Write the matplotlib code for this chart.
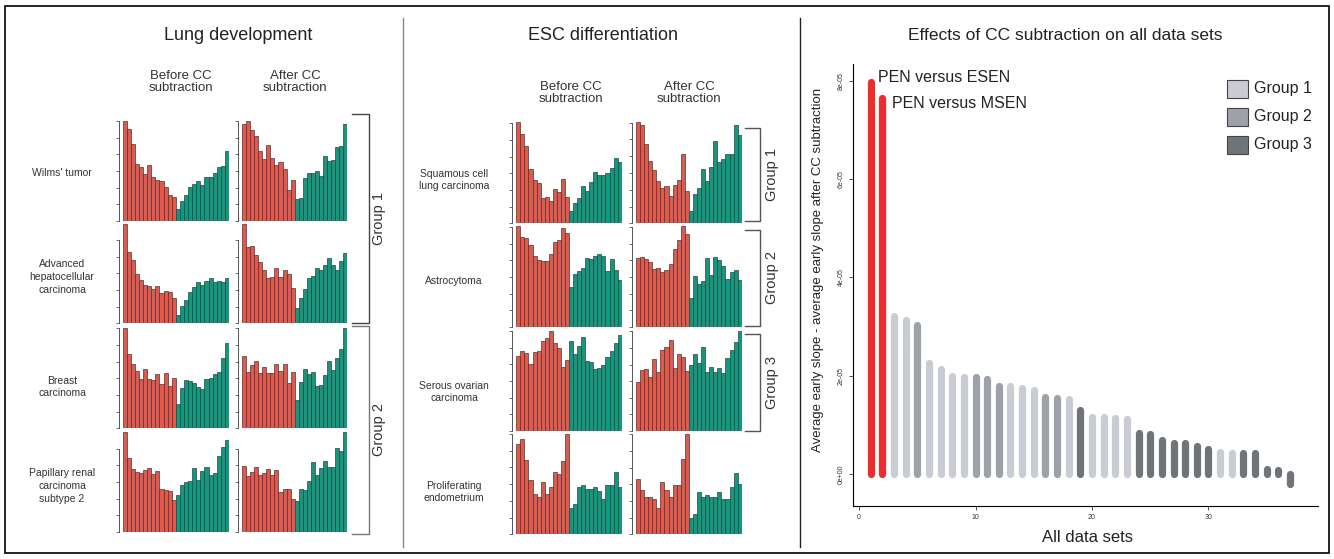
import numpy as np
import matplotlib
matplotlib.use('Agg')
import matplotlib.pyplot as plt
from matplotlib.lines import Line2D
from matplotlib.patches import Rectangle
from matplotlib.ticker import MaxNLocator

plt.rcParams['font.family'] = ['Liberation Sans', 'DejaVu Sans']

# ---- bar profiles (relative heights) ----
wilms_before = [301, 275, 230, 171, 162, 141, 167, 133, 122, 120, 102, 78, 72,
                37, 60, 77, 102, 111, 119, 108, 133, 133, 145, 161, 165, 209]
wilms_after = [291, 301, 272, 256, 211, 185, 227, 188, 167, 176, 157, 93, 123,
               66, 68, 129, 143, 143, 150, 135, 195, 180, 183, 222, 224, 290]
hepato_before = [297, 213, 189, 149, 129, 114, 111, 102, 111, 91, 98, 94, 75,
                 24, 51, 71, 93, 108, 125, 114, 127, 135, 123, 126, 123, 135]
hepato_after = [297, 228, 231, 205, 185, 159, 137, 139, 165, 139, 159, 147, 105,
                46, 75, 103, 135, 142, 166, 159, 174, 195, 176, 159, 186, 210]
breast_before = [300, 222, 192, 173, 149, 179, 149, 145, 164, 133, 165, 128, 150,
                 74, 121, 145, 141, 137, 125, 117, 147, 152, 162, 169, 210, 255]
breast_after = [217, 168, 190, 202, 165, 183, 165, 165, 193, 171, 193, 135, 168,
                84, 138, 177, 163, 170, 128, 129, 161, 202, 174, 210, 238, 300]
renal_before = [299, 221, 189, 181, 177, 185, 193, 173, 182, 128, 125, 124, 97,
                111, 140, 150, 152, 193, 157, 183, 195, 170, 177, 228, 254, 276]
renal_after = [198, 167, 181, 196, 172, 178, 189, 170, 187, 121, 128, 128, 99,
               93, 128, 126, 152, 210, 170, 193, 212, 194, 194, 251, 242, 299]

squamous_before = [303, 267, 231, 163, 130, 120, 77, 79, 66, 102, 93, 133, 78,
                   37, 61, 77, 112, 96, 124, 154, 145, 145, 150, 166, 195, 183]
squamous_after = [301, 292, 236, 187, 159, 125, 105, 111, 82, 115, 130, 206, 97,
                  38, 86, 106, 163, 125, 168, 245, 183, 192, 207, 207, 292, 263]
astro_before = [302, 269, 266, 245, 213, 201, 199, 198, 218, 255, 262, 298, 281,
                120, 158, 167, 176, 208, 204, 214, 220, 212, 168, 204, 170, 140]
astro_after = [206, 210, 203, 194, 174, 176, 164, 171, 190, 233, 260, 302, 280,
               86, 154, 130, 138, 206, 155, 211, 200, 184, 143, 164, 172, 140]
serous_before = [225, 239, 233, 200, 236, 239, 270, 278, 301, 263, 248, 193, 212,
                 271, 231, 256, 281, 211, 206, 186, 188, 197, 222, 239, 264, 287]
serous_after = [148, 185, 188, 164, 218, 178, 244, 253, 275, 191, 232, 223, 181,
                200, 232, 206, 254, 178, 194, 179, 191, 176, 221, 244, 269, 302]
prolif_before = [270, 286, 222, 161, 120, 111, 156, 120, 140, 186, 180, 220, 300,
                 80, 90, 140, 146, 136, 136, 140, 131, 106, 146, 146, 186, 142]
prolif_after = [165, 134, 113, 113, 106, 79, 156, 134, 112, 148, 148, 225, 301,
                50, 62, 127, 112, 119, 112, 112, 127, 106, 106, 141, 183, 150]

lung_labels = ["Wilms' tumor", "Advanced\nhepatocellular\ncarcinoma",
               "Breast\ncarcinoma", "Papillary renal\ncarcinoma\nsubtype 2"]
esc_labels = ["Squamous cell\nlung carcinoma", "Astrocytoma",
              "Serous ovarian\ncarcinoma", "Proliferating\nendometrium"]

# ---- right panel data ----
set_index = np.arange(1, 38)
slope_diff = np.array([7.98, 7.64, 3.21, 3.13, 3.03, 2.26, 2.14, 2.00, 1.98, 1.98,
                       1.93, 1.79, 1.78, 1.75, 1.71, 1.57, 1.55, 1.52, 1.31, 1.16,
                       1.16, 1.14, 1.12, 0.83, 0.81, 0.69, 0.64, 0.63, 0.57, 0.50,
                       0.45, 0.43, 0.42, 0.42, 0.11, 0.09, -0.21]) * 1e-5
set_group = [0, 0, 1, 1, 2, 1, 1, 1, 1, 2, 2, 2, 1, 1, 1, 2, 2, 1, 3, 1,
             1, 1, 1, 3, 3, 3, 3, 3, 3, 3, 1, 1, 3, 3, 3, 3, 3]
group_names = ['Group 1', 'Group 2', 'Group 3']

RED = '#e5574b'
GREEN = '#0f9a80'
EDGE = '#3c3c3c'
GCOL = ['#ec2d2b', '#c9ccd2', '#9da2a9', '#6f7479']

W, H = 1334, 559
fig = plt.figure(figsize=(W / 100, H / 100), dpi=100)


def rect(x0, y0, x1, y1):
    return [x0 / W, 1 - y1 / H, (x1 - x0) / W, (y1 - y0) / H]


def fx(x):
    return x / W


def fy(y):
    return 1 - y / H


def bar_panel(spine_x, bar_x, end_x, top_y, bot_y, vals):
    ax = fig.add_axes(rect(spine_x, top_y, end_x, bot_y))
    n = len(vals)
    step = (end_x - bar_x) / n
    lead = (bar_x - spine_x) / step
    cols = [RED] * 13 + [GREEN] * 13
    ax.bar(np.arange(n), vals, width=1, color=cols, edgecolor=EDGE, lw=0.5)
    ax.set_xlim(-0.5 - lead, n - 0.5)
    ax.set_ylim(0, max(vals))
    for s in ['top', 'right', 'bottom']:
        ax.spines[s].set_visible(False)
    ax.spines['left'].set_color('#555555')
    ax.spines['left'].set_linewidth(0.7)
    ax.yaxis.set_major_locator(MaxNLocator(7))
    ticks = [t for t in ax.get_yticks() if 0 <= t <= max(vals)]
    ax.set_yticks(ticks)
    ax.spines['left'].set_bounds(0, ticks[-1])
    ax.tick_params(axis='y', length=2, width=0.6, color='#555555', labelleft=False)
    ax.set_xticks([])
    ax.patch.set_alpha(0)
    return ax


# ---- left panel: lung development ----
lung_rows = [(wilms_before, wilms_after), (hepato_before, hepato_after),
             (breast_before, breast_after), (renal_before, renal_after)]
lung_y = [(120.7, 221), (224.3, 323.3), (328.3, 428.3), (432.3, 532)]
for (bef, aft), (t, b) in zip(lung_rows, lung_y):
    bar_panel(119.3, 122.7, 229, t, b, bef)
    bar_panel(237.7, 242, 347.3, t, b, aft)

lung_label_y = [173, 277, 387, 486]
for lab, y in zip(lung_labels, lung_label_y):
    fig.text(fx(62), fy(y), lab, ha='center', va='center', fontsize=7.5,
             color='#333333', linespacing=1.35)

# ---- middle panel: ESC differentiation ----
esc_rows = [(squamous_before, squamous_after), (astro_before, astro_after),
            (serous_before, serous_after), (prolif_before, prolif_after)]
esc_y = [(122.3, 223.3), (226.3, 327), (330.7, 431), (434, 534.3)]
for (bef, aft), (t, b) in zip(esc_rows, esc_y):
    bar_panel(511.7, 516.3, 621.7, t, b, bef)
    bar_panel(631.7, 636, 741.7, t, b, aft)

esc_label_y = [180, 281, 392, 492]
for lab, y in zip(esc_labels, esc_label_y):
    fig.text(fx(454), fy(y), lab, ha='center', va='center', fontsize=7.5,
             color='#333333', linespacing=1.35)

# titles and column headers
fig.text(fx(238), fy(35), 'Lung development', ha='center', va='center', fontsize=13, color='#222222')
fig.text(fx(603), fy(35), 'ESC differentiation', ha='center', va='center', fontsize=13, color='#222222')
fig.text(fx(1065), fy(35), 'Effects of CC subtraction on all data sets', ha='center', va='center',
         fontsize=12.5, color='#222222')
for x, y, lab in [(181, 82, 'Before CC\nsubtraction'), (295, 82, 'After CC\nsubtraction'),
                  (571, 93, 'Before CC\nsubtraction'), (689, 93, 'After CC\nsubtraction')]:
    fig.text(fx(x), fy(y), lab, ha='center', va='center', fontsize=9.5, color='#333333',
             linespacing=1.1)


# group brackets
def bracket(x, x_in, y0, y1, label, lx, color='#555555'):
    fig.add_artist(Line2D([fx(x_in), fx(x), fx(x), fx(x_in)], [fy(y0), fy(y0), fy(y1), fy(y1)],
                          color=color, lw=1.0))
    fig.text(fx(lx), fy((y0 + y1) / 2), label, rotation=90, ha='center', va='center',
             fontsize=10.5, color='#333333')


bracket(369, 352, 114, 323, 'Group 1', 379, '#444444')
bracket(369, 352, 326, 534, 'Group 2', 379, '#777777')
bracket(760, 745, 128, 221, 'Group 1', 772)
bracket(760, 745, 230, 326, 'Group 2', 772)
bracket(760, 745, 334, 431, 'Group 3', 772)

# separators and frame
fig.add_artist(Line2D([fx(403), fx(403)], [fy(18), fy(547)], color='#888888', lw=1.0))
fig.add_artist(Line2D([fx(800), fx(800)], [fy(18), fy(547)], color='#222222', lw=1.0))
fig.add_artist(Rectangle((fx(5), fy(553)), fx(1329) - fx(5), fy(6) - fy(553),
                         transform=fig.transFigure, fill=False, edgecolor='black', lw=1.2))

# ---- right panel ----
ax = fig.add_axes(rect(853.3, 64, 1318, 505.7))
for xi, v, g in zip(set_index, slope_diff, set_group):
    ax.plot([xi, xi], [0, v], color=GCOL[g], lw=5.2, solid_capstyle='round')
ax.set_xlim(-0.49, 39.4)
ax.set_ylim(-0.645e-5, 8.34e-5)
ax.spines['top'].set_visible(False)
ax.spines['right'].set_visible(False)
ax.set_yticks([0, 2e-5, 4e-5, 6e-5, 8e-5])
ax.set_yticklabels(['0e+00', '2e-05', '4e-05', '6e-05', '8e-05'], rotation=90, va='center')
ax.set_xticks([0, 10, 20, 30])
ax.tick_params(labelsize=5, length=3, width=0.6, color='#333333', labelcolor='#333333', pad=3)
ax.patch.set_alpha(0)
ax.text(1.63, 8.06e-5, 'PEN versus ESEN', fontsize=11.5, va='center', ha='left', color='#222222')
ax.text(2.83, 7.53e-5, 'PEN versus MSEN', fontsize=11.5, va='center', ha='left', color='#222222')

fig.text(fx(818), fy(270), 'Average early slope - average early slope after CC subtraction',
         rotation=90, ha='center', va='center', fontsize=9.5, color='#222222')
fig.text(fx(1088), fy(537), 'All data sets', ha='center', va='center', fontsize=12, color='#222222')

# legend drawn by hand
for i, name in enumerate(group_names):
    y0 = 80 + i * 28
    fig.add_artist(Rectangle((fx(1227), fy(y0 + 18)), fx(1248) - fx(1227), fy(y0) - fy(y0 + 18),
                             transform=fig.transFigure, facecolor=GCOL[i + 1],
                             edgecolor='#444444', lw=0.8))
    fig.text(fx(1254), fy(y0 + 9), name, ha='left', va='center', fontsize=11.5, color='#222222')

fig.savefig('out.png', dpi=100)
